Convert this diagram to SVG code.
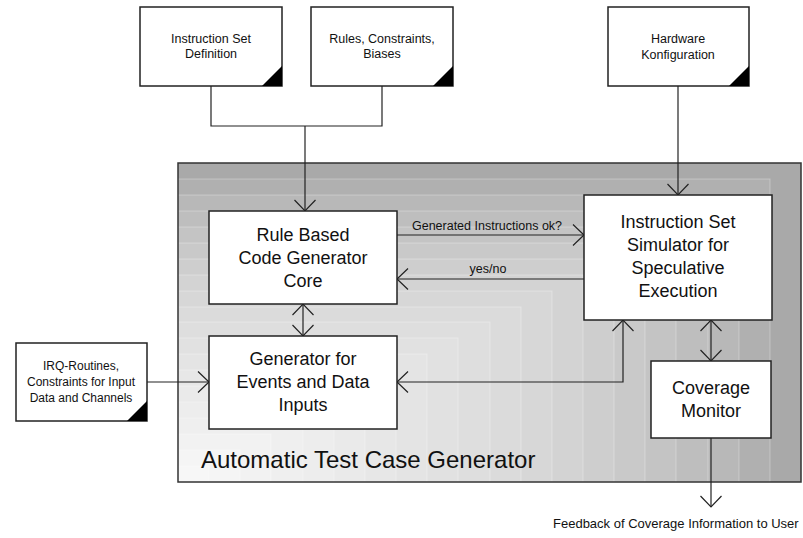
<svg xmlns="http://www.w3.org/2000/svg" width="803" height="538" viewBox="0 0 803 538">
<style>
.box{fill:#fff;stroke:#222;stroke-width:1.5}
.tri{fill:#000}
.con{fill:none;stroke:#222;stroke-width:1.2}
.band{stroke:#fff;stroke-opacity:0.3;stroke-width:1}
.s{font-family:"Liberation Sans",Arial,sans-serif;font-size:12.5px;fill:#111;text-anchor:middle}
.m{font-family:"Liberation Sans",Arial,sans-serif;font-size:18px;fill:#111;text-anchor:middle}
.l{font-family:"Liberation Sans",Arial,sans-serif;font-size:24px;fill:#111}
</style>
<defs>
<marker id="arr" markerUnits="userSpaceOnUse" viewBox="0 0 12 22" markerWidth="12" markerHeight="22" refX="11" refY="11" orient="auto-start-reverse" overflow="visible">
<path d="M0,0.5 L11,11 L0,21.5" fill="none" stroke="#222" stroke-width="1.2"/>
</marker>
</defs>

<g id="container">
<rect x="178" y="163" width="623" height="319" fill="#a9a9a9"/>
<rect class="band" x="178" y="179" width="592" height="303" fill="#b0b0b0"/>
<rect class="band" x="178" y="195" width="561" height="287" fill="#b8b8b8"/>
<rect class="band" x="178" y="211" width="530" height="271" fill="#bebebe"/>
<rect class="band" x="178" y="227" width="498" height="255" fill="#c4c4c4"/>
<rect class="band" x="178" y="243" width="467" height="239" fill="#c9c9c9"/>
<rect class="band" x="178" y="259" width="436" height="223" fill="#cecece"/>
<rect class="band" x="178" y="275" width="405" height="207" fill="#d3d3d3"/>
<rect class="band" x="178" y="291" width="374" height="191" fill="#d7d7d7"/>
<rect class="band" x="178" y="307" width="343" height="175" fill="#dbdbdb"/>
<rect class="band" x="178" y="322" width="312" height="160" fill="#dedede"/>
<rect class="band" x="178" y="338" width="280" height="144" fill="#e1e1e1"/>
<rect class="band" x="178" y="354" width="249" height="128" fill="#e4e4e4"/>
<rect class="band" x="178" y="370" width="218" height="112" fill="#e7e7e7"/>
<rect class="band" x="178" y="386" width="187" height="96" fill="#eaeaea"/>
<rect class="band" x="178" y="402" width="156" height="80" fill="#ededed"/>
<rect class="band" x="178" y="418" width="125" height="64" fill="#efefef"/>
<rect class="band" x="178" y="434" width="93" height="48" fill="#f2f2f2"/>
<rect class="band" x="178" y="450" width="62" height="32" fill="#f5f5f5"/>
<rect class="band" x="178" y="466" width="31" height="16" fill="#f7f7f7"/>
<rect x="178" y="163" width="623" height="319" fill="none" stroke="#333" stroke-width="1.5"/>
<text class="l" x="201" y="468">Automatic Test Case Generator</text>
</g>

<g id="connectors">
<polyline class="con" points="211,86 211,126 382,126 382,86"/>
<line class="con" x1="305" y1="126" x2="305" y2="211" marker-end="url(#arr)"/>
<line class="con" x1="678" y1="86" x2="678" y2="195" marker-end="url(#arr)"/>
<line class="con" x1="397" y1="235" x2="584" y2="235" marker-end="url(#arr)"/>
<line class="con" x1="584" y1="279" x2="397" y2="279" marker-end="url(#arr)"/>
<line class="con" x1="303" y1="304" x2="303" y2="336" marker-start="url(#arr)" marker-end="url(#arr)"/>
<line class="con" x1="147" y1="382" x2="209" y2="382" marker-end="url(#arr)"/>
<polyline class="con" points="397,382 623,382 623,320" marker-start="url(#arr)" marker-end="url(#arr)"/>
<line class="con" x1="711" y1="320" x2="711" y2="361" marker-start="url(#arr)" marker-end="url(#arr)"/>
<line class="con" x1="711" y1="438" x2="711" y2="507" marker-end="url(#arr)"/>
<text class="s" x="487" y="230">Generated Instructions ok?</text>
<text class="s" x="488" y="273">yes/no</text>
<text class="s" x="553" y="528" style="text-anchor:start;font-size:13px">Feedback of Coverage Information to User</text>
</g>

<g id="isd">
<rect class="box" x="140" y="7" width="142" height="79"/>
<polygon class="tri" points="262,86 282,66 282,86"/>
<text class="s" x="211" y="43">Instruction Set</text>
<text class="s" x="211" y="58">Definition</text>
</g>

<g id="rules">
<rect class="box" x="311" y="7" width="142" height="79"/>
<polygon class="tri" points="433,86 453,66 453,86"/>
<text class="s" x="382" y="43">Rules, Constraints,</text>
<text class="s" x="382" y="58">Biases</text>
</g>

<g id="hardware">
<rect class="box" x="608" y="7" width="141" height="79"/>
<polygon class="tri" points="729,86 749,66 749,86"/>
<text class="s" x="678" y="43">Hardware</text>
<text class="s" x="678" y="59">Konfiguration</text>
</g>

<g id="irq">
<rect class="box" x="16" y="343" width="131" height="78"/>
<polygon class="tri" points="127,421 147,401 147,421"/>
<text class="s" x="81" y="370" style="font-size:12px">IRQ-Routines,</text>
<text class="s" x="81" y="386" style="font-size:12px">Constraints for Input</text>
<text class="s" x="81" y="402" style="font-size:12px">Data and Channels</text>
</g>

<g id="rulecore">
<rect class="box" x="209" y="211" width="188" height="93"/>
<text class="m" x="303" y="241">Rule Based</text>
<text class="m" x="303" y="264">Code Generator</text>
<text class="m" x="303" y="287">Core</text>
</g>

<g id="iss">
<rect class="box" x="584" y="195" width="188" height="125"/>
<text class="m" x="678" y="228">Instruction Set</text>
<text class="m" x="678" y="251">Simulator for</text>
<text class="m" x="678" y="274">Speculative</text>
<text class="m" x="678" y="297">Execution</text>
</g>

<g id="generator">
<rect class="box" x="209" y="336" width="188" height="93"/>
<text class="m" x="303" y="365">Generator for</text>
<text class="m" x="303" y="388">Events and Data</text>
<text class="m" x="303" y="411">Inputs</text>
</g>

<g id="coverage">
<rect class="box" x="651" y="361" width="120" height="77"/>
<text class="m" x="711" y="394">Coverage</text>
<text class="m" x="711" y="417">Monitor</text>
</g>
</svg>
